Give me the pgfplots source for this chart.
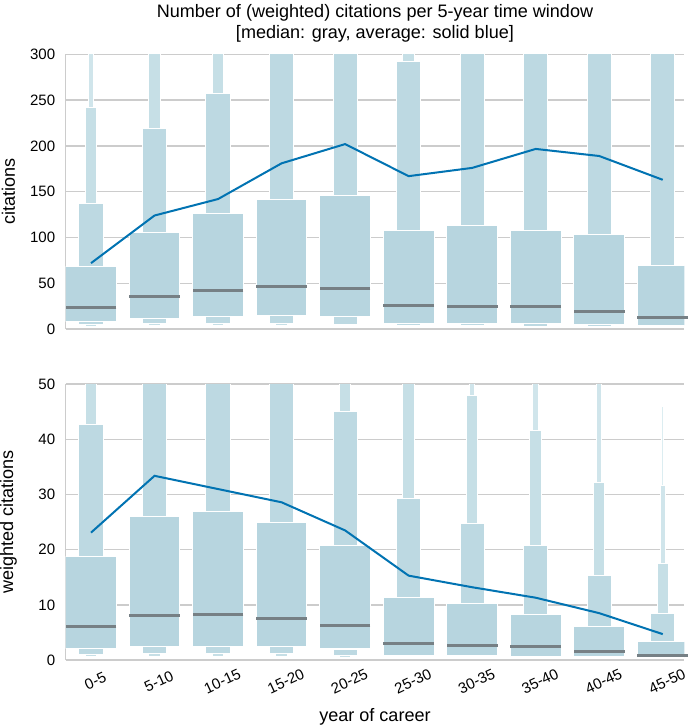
\documentclass[border=0pt]{standalone}
\usepackage{pgfplots}
\usepackage{pgfplotstable}
\usepackage{fontspec}
\setmainfont{Liberation Sans}
\pgfplotsset{compat=1.18}

\definecolor{lv1}{HTML}{B7D5DF}
\definecolor{lv2}{HTML}{BDD9E2}
\definecolor{lv3}{HTML}{C6DFE6}
\definecolor{lv4}{HTML}{D0E5EB}
\definecolor{lv5}{HTML}{DCEDF1}
\definecolor{medgray}{RGB}{118,128,133}
\definecolor{avgblue}{RGB}{1,115,178}
\definecolor{spine}{RGB}{204,204,204}

% letter values: lower pieces, box (q1..q3), upper pieces; median, mean
\pgfplotstableread{
x lo3 lo2 q1 q3 hi2 hi3 hi4 hi5 med avg
0 3.0 4.7 8.4 68.4 137.5 242 400 400 24 72
1 3.6 5.8 11.6 105.5 219 400 400 400 36 124
2 3.6 5.8 13.8 126 257.5 400 400 400 41.8 142
3 3.6 6.5 14.5 141 400 400 400 400 47 181
4 3.6 5.5 13.8 146 400 400 400 400 44.7 202
5 3.0 3.6 6.5 108 292.7 400 400 400 26 167
6 3.0 3.6 6.5 113 400 400 400 400 25 176
7 2.5 3.0 6.5 108 400 400 400 400 25 196.7
8 2.5 3.0 5.5 103 400 400 400 400 19.6 189
9 2.0 2.5 4.4 69 400 400 400 400 13 163
}\citdata

\pgfplotstableread{
x lo3 lo2 q1 q3 hi2 hi3 hi4 hi5 med avg
0 0.6 1.0 2.1 18.7 42.7 60 60 60 6.0 23.1
1 0.6 1.1 2.5 26.0 60 60 60 60 8.0 33.4
2 0.6 1.1 2.5 27.0 60 60 60 60 8.2 31.0
3 0.6 1.1 2.5 25.0 60 60 60 60 7.6 28.6
4 0.5 0.8 2.0 20.7 45.0 60 60 60 6.3 23.5
5 0.5 0.7 0.9 11.4 29.2 60 60 60 3.0 15.3
6 0.4 0.6 0.8 10.2 24.8 48.0 60 60 2.6 13.2
7 0.4 0.5 0.7 8.3 20.7 41.7 60 60 2.4 11.3
8 0.3 0.5 0.66 6.1 15.4 32.2 60 60 1.6 8.5
9 0.2 0.3 0.5 3.3 8.4 17.5 31.7 46 0.9 4.7
}\wcitdata

\pgfplotsset{
  lvaxis/.style={
    scale only axis, width=308.5pt,
    xmin=-0.4, xmax=9.34, ymin=0,
    axis x line=box, axis y line=left,
    axis line style={-, draw=spine, line width=0.8pt},
    ybar stacked, bar shift=0pt, reverse stacked plots=false,
    xtick={0,...,9}, major tick length=0pt,
    ymajorgrids, grid style={draw=spine, line width=0.7pt},
    font=\fontsize{7.5}{9}\selectfont,
    /pgf/number format/assume math mode=true,
    yticklabel style={inner sep=0pt, xshift=-5pt},
    ylabel style={font=\fontsize{9}{10}\selectfont, inner sep=0pt,
      at={(axis description cs:-0.0924,0.5)}, anchor=center},
  },
  seg/.style={draw=white, line width=0.5pt},
}

\newcommand{\letterplots}[1]{%
  \addplot[draw=none, fill=none, bar width=0.8] table[x=x, y=lo3] #1;
  \addplot[seg, fill=lv3, bar width=0.18] table[x=x, y expr=\thisrow{lo2}-\thisrow{lo3}] #1;
  \addplot[seg, fill=lv2, bar width=0.38] table[x=x, y expr=\thisrow{q1}-\thisrow{lo2}] #1;
  \addplot[seg, fill=lv1, bar width=0.8] table[x=x, y expr=\thisrow{q3}-\thisrow{q1}] #1;
  \addplot[seg, fill=lv2, bar width=0.38] table[x=x, y expr=\thisrow{hi2}-\thisrow{q3}] #1;
  \addplot[seg, fill=lv3, bar width=0.18] table[x=x, y expr=\thisrow{hi3}-\thisrow{hi2}] #1;
  \addplot[seg, fill=lv4, bar width=0.085] table[x=x, y expr=\thisrow{hi4}-\thisrow{hi3}] #1;
  \addplot[seg, fill=lv5, bar width=0.035] table[x=x, y expr=\thisrow{hi5}-\thisrow{hi4}] #1;
  % median: a horizontal dash as wide as the box (0.8 x-units)
  \addplot[sharp plot, stack plots=false, only marks, mark=-, mark size=12.66pt,
    mark options={draw=medgray, line width=1.5pt}] table[x=x, y=med] #1;
  \addplot[sharp plot, stack plots=false, mark=none, draw=avgblue, line width=1pt] table[x=x, y=avg] #1;
}

\begin{document}
\begin{tikzpicture}
\begin{axis}[lvaxis, at={(0,165pt)}, height=137pt, ymax=300,
    ytick={0,50,...,300}, xticklabels={},
    ylabel={citations},
    title={Number of (weighted) citations per 5-year time window\\{}[median: gray, average: solid blue]},
    title style={font=\fontsize{9}{10.5}\selectfont, align=center,
      at={(axis description cs:0.5,1)}, anchor=south, inner sep=2pt, yshift=-2pt}]
  \letterplots{\citdata}
\end{axis}
\begin{axis}[lvaxis, at={(0,0)}, height=137.5pt, ymax=50,
    ytick={0,10,...,50},
    xticklabels={0-5,5-10,10-15,15-20,20-25,25-30,30-35,35-40,40-45,45-50},
    xticklabel style={rotate=25, anchor=center, yshift=-10.5pt, xshift=-2.5pt},
    ylabel={weighted citations},
    xlabel={year of career},
    xlabel style={font=\fontsize{9}{10}\selectfont, inner sep=1pt,
      at={(axis description cs:0.5,-0.222)}, anchor=base}]
  \letterplots{\wcitdata}
\end{axis}
\end{tikzpicture}
\end{document}
